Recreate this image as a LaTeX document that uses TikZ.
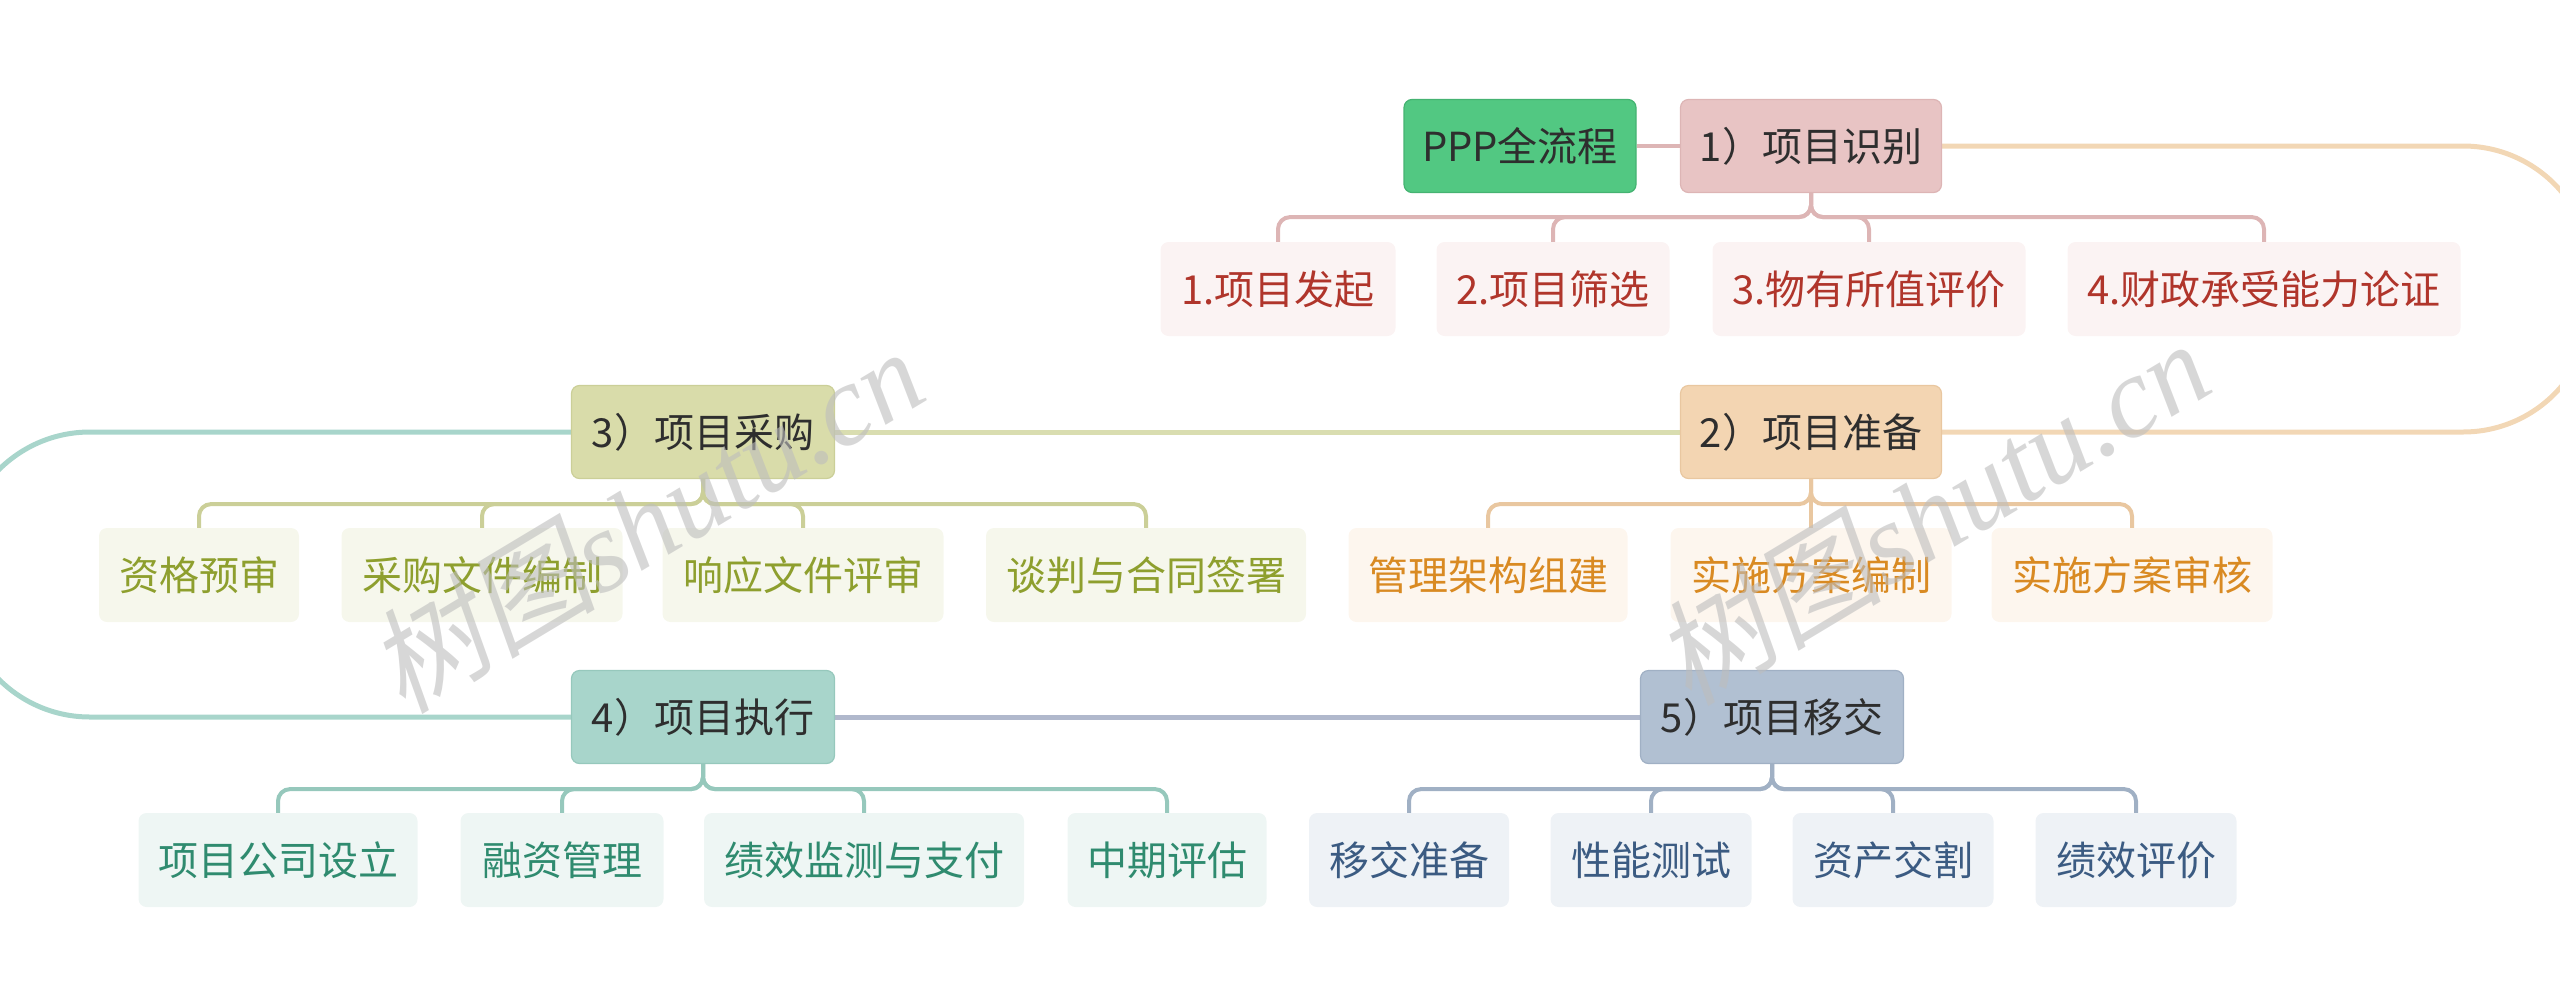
\documentclass[tikz,border=0pt]{standalone}
\usepackage{fontspec}
\setmainfont{Noto Sans CJK SC}
\newfontfamily\wmcjk[FakeSlant=0.2]{Noto Sans CJK SC}
\newfontfamily\wmserif{Liberation Serif}
\usetikzlibrary{backgrounds}
\definecolor{cppp}{HTML}{52C882}
\definecolor{cppd}{HTML}{45B372}
\definecolor{ca}{HTML}{E8C4C4}
\definecolor{cad}{HTML}{DDB5B5}
\definecolor{cal}{HTML}{FBF3F3}
\definecolor{cat}{HTML}{B0352B}
\definecolor{cb}{HTML}{F3D5B2}
\definecolor{cbd}{HTML}{E9C7A0}
\definecolor{cbl}{HTML}{FDF6EE}
\definecolor{cbt}{HTML}{D98A22}
\definecolor{cc}{HTML}{D9DCAA}
\definecolor{ccd}{HTML}{CBCF98}
\definecolor{ccl}{HTML}{F6F7EC}
\definecolor{cct}{HTML}{8E9F2E}
\definecolor{cd}{HTML}{A8D5CB}
\definecolor{cdd}{HTML}{96C8BC}
\definecolor{cdl}{HTML}{EEF6F4}
\definecolor{cdt}{HTML}{2F8B6F}
\definecolor{ce}{HTML}{B1C0D2}
\definecolor{ced}{HTML}{A0B0C4}
\definecolor{cel}{HTML}{EEF2F6}
\definecolor{cet}{HTML}{3B5B82}
\definecolor{lab}{HTML}{F2D7B5}
\definecolor{lbc}{HTML}{D9DDB0}
\definecolor{lcd}{HTML}{A8D5CB}
\definecolor{lde}{HTML}{B0B8CC}
\definecolor{wm}{HTML}{BDBDBD}
\begin{document}
\begin{tikzpicture}[x=1pt,y=-1pt,
  mainbox/.style={rounded corners=8pt, minimum height=93pt, inner sep=0pt, line width=1.2pt,
    font=\fontsize{40}{42}\selectfont, text=black!82},
  subbox/.style={rounded corners=8pt, minimum height=94pt, inner sep=0pt,
    font=\fontsize{40}{42}\selectfont},
  ra/.style={subbox, fill=cal, text=cat},
  rb/.style={subbox, fill=cbl, text=cbt},
  rc/.style={subbox, fill=ccl, text=cct},
  rd/.style={subbox, fill=cdl, text=cdt},
  re/.style={subbox, fill=cel, text=cet},
  loopline/.style={line width=5pt},
  brline/.style={line width=4pt, rounded corners=12pt},
  wmark/.style={rotate=31, text=wm, text opacity=0.6, inner sep=0pt}
]
\useasboundingbox (0,0) rectangle (2560,1007);

% main nodes
\node[mainbox, fill=cppp, draw=cppd, minimum width=232pt] (ppp) at (1520,146) {PPP全流程};
\node[mainbox, fill=ca, draw=cad, minimum width=261pt] (n1) at (1811,146) {1）项目识别};
\node[mainbox, fill=cb, draw=cbd, minimum width=261pt] (n2) at (1811,432) {2）项目准备};
\node[mainbox, fill=cc, draw=ccd, minimum width=263pt] (n3) at (703,432) {3）项目采购};
\node[mainbox, fill=cd, draw=cdd, minimum width=263pt] (n4) at (703,717) {4）项目执行};
\node[mainbox, fill=ce, draw=ced, minimum width=263pt] (n5) at (1772,717) {5）项目移交};

% children 1
\node[ra, minimum width=235pt] (c11) at (1278,289) {1.项目发起};
\node[ra, minimum width=233pt] (c12) at (1553,289) {2.项目筛选};
\node[ra, minimum width=313pt] (c13) at (1869,289) {3.物有所值评价};
\node[ra, minimum width=393pt] (c14) at (2264,289) {4.财政承受能力论证};
% children 2
\node[rb, minimum width=279pt] (c21) at (1488,575) {管理架构组建};
\node[rb, minimum width=281pt] (c22) at (1811,575) {实施方案编制};
\node[rb, minimum width=281pt] (c23) at (2132,575) {实施方案审核};
% children 3
\node[rc, minimum width=200pt] (c31) at (199,575) {资格预审};
\node[rc, minimum width=281pt] (c32) at (482,575) {采购文件编制};
\node[rc, minimum width=281pt] (c33) at (803,575) {响应文件评审};
\node[rc, minimum width=320pt] (c34) at (1146,575) {谈判与合同签署};
% children 4
\node[rd, minimum width=279pt] (c41) at (278,860) {项目公司设立};
\node[rd, minimum width=203pt] (c42) at (562,860) {融资管理};
\node[rd, minimum width=320pt] (c43) at (864,860) {绩效监测与支付};
\node[rd, minimum width=199pt] (c44) at (1167,860) {中期评估};
% children 5
\node[re, minimum width=200pt] (c51) at (1409,860) {移交准备};
\node[re, minimum width=201pt] (c52) at (1651,860) {性能测试};
\node[re, minimum width=201pt] (c53) at (1893,860) {资产交割};
\node[re, minimum width=201pt] (c54) at (2136,860) {绩效评价};

\begin{scope}[on background layer]
% connectors between main nodes
\draw[line width=4pt, draw=cad] (ppp.east) -- (n1.west);
\draw[loopline, draw=lab, rounded corners=129pt] (n1.east) -- (2592,146) -- (2592,432) -- (n2.east);
\draw[loopline, draw=lbc] (n2.west) -- (n3.east);
\draw[loopline, draw=lcd, rounded corners=129pt] (n3.west) -- (-39,432) -- (-39,717) -- (n4.west);
\draw[loopline, draw=lde] (n4.east) -- (n5.west);
% brackets
\foreach \c in {c11,c12,c13,c14}
  \draw[brline, draw=cad] (n1.south) -- ++(0,24) -| (\c.north);
\foreach \c in {c21,c23}
  \draw[brline, draw=cbd] (n2.south) -- ++(0,25) -| (\c.north);
\draw[brline, draw=cbd] (n2.south) -- (c22.north);
\foreach \c in {c31,c32,c33,c34}
  \draw[brline, draw=ccd] (n3.south) -- ++(0,25) -| (\c.north);
\foreach \c in {c41,c42,c43,c44}
  \draw[brline, draw=cdd] (n4.south) -- ++(0,25) -| (\c.north);
\foreach \c in {c51,c52,c53,c54}
  \draw[brline, draw=ced] (n5.south) -- ++(0,25) -| (\c.north);
\end{scope}

% watermarks (on top, translucent)
\node[wmark] (wm1) at (645,519) {\fontsize{115}{115}\selectfont{\wmcjk 树图}{\wmserif\itshape shutu.cn}};
\node[wmark] (wm2) at (1931,511) {\fontsize{115}{115}\selectfont{\wmcjk 树图}{\wmserif\itshape shutu.cn}};
\end{tikzpicture}
\end{document}
